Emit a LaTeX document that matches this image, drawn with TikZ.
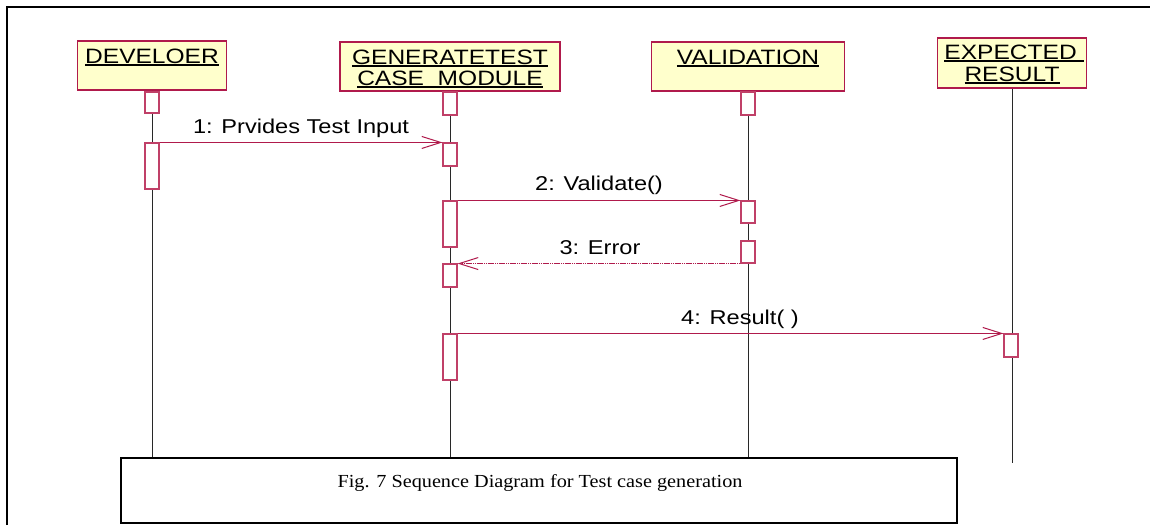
\documentclass[tikz,border=0pt]{standalone}
\usepackage{fontspec}
\setmainfont{Liberation Sans}
\newfontfamily\umlfont[FakeStretch=1.18]{Liberation Sans}
\newfontfamily\capfont[FakeStretch=1.1]{Liberation Serif}
\usetikzlibrary{arrows.meta}
\definecolor{umlred}{RGB}{176,26,76}
\definecolor{actred}{RGB}{192,64,104}
\definecolor{hdrfill}{RGB}{255,255,204}
\definecolor{lifegray}{RGB}{40,40,40}
% underlined object name with a heavier rule
\newcommand\ulbox[1]{\vtop{\hbox{#1}\kern1.2pt\hrule height 1.6pt}}
\tikzset{
  hdrbox/.style={draw=umlred, line width=1.1pt, fill=hdrfill, inner sep=0pt},
  hdrtxt/.style={anchor=base, inner sep=0pt, text=black,
    font=\umlfont\fontsize{20.8}{23}\selectfont},
  lifeline/.style={draw=lifegray, line width=0.9pt},
  actbox/.style={draw=actred, line width=1.1pt, fill=white, inner sep=0pt,
    minimum width=14pt},
  msg/.style={draw=umlred, line width=1pt,
    -{Straight Barb[length=19pt,width=12pt,line width=1pt]}},
  retmsg/.style={msg, dash pattern=on 1.6pt off 0.6pt},
  msglbl/.style={anchor=base, inner sep=0pt, text=black,
    font=\umlfont\fontsize{20}{23}\selectfont},
  capbox/.style={draw=black, line width=2.4pt, fill=white, inner sep=0pt},
  captxt/.style={anchor=base, inner sep=0pt, text=black,
    font=\capfont\fontsize{18.4}{20}\selectfont},
  frameline/.style={draw=black, line width=2.2pt}
}
\begin{document}
\begin{tikzpicture}[x=1pt,y=-1pt]
\useasboundingbox (0,0) rectangle (1150,525);
\fill[white] (0,0) rectangle (1150,525);

% outer frame (left and top edges)
\draw[frameline] (7,525) -- (7,7) -- (1150,7);

% object headers
\node[hdrbox, minimum width=149pt, minimum height=49pt] (devH) at (152,65.5) {};
\node[hdrtxt] (devT) at (152,63) {\ulbox{DEVELOER}};

\node[hdrbox, minimum width=220pt, minimum height=49pt] (genH) at (450,66.5) {};
\node[hdrtxt] (genT1) at (450,64) {\ulbox{GENERATETEST}};
\node[hdrtxt] (genT2) at (450,85) {\ulbox{CASE~ MODULE}};

\node[hdrbox, minimum width=193pt, minimum height=49pt] (valH) at (748,66.5) {};
\node[hdrtxt] (valT) at (748,64) {\ulbox{VALIDATION}};

\node[hdrbox, minimum width=149pt, minimum height=50pt] (expH) at (1012,63) {};
\node[hdrtxt] (expT1) at (1014,59) {\ulbox{EXPECTED\ }};
\node[hdrtxt] (expT2) at (1012,81) {\ulbox{RESULT}};

% caption box
\node[capbox, minimum width=836pt, minimum height=65pt] (cap) at (539,490.5) {};
\node[captxt] (capT) at (540,487) {Fig. 7 Sequence Diagram for Test case generation};

% lifeline ends
\coordinate (devEnd) at (devH |- cap.north);
\coordinate (genEnd) at (genH |- cap.north);
\coordinate (valEnd) at (valH |- cap.north);
\coordinate (expEnd) at (1012,463);

% lifelines
\draw[lifeline] (devH.south) -- (devEnd);
\draw[lifeline] (genH.south) -- (genEnd);
\draw[lifeline] (valH.south) -- (valEnd);
\draw[lifeline] (expH.south) -- (expEnd);

% activation boxes
\node[actbox, minimum height=21pt] (d0) at (152,102.5) {};
\node[actbox, minimum height=46pt] (d1) at (152,166) {};

\node[actbox, minimum height=23pt] (g0) at (450,103.5) {};
\node[actbox, minimum height=23pt] (g1) at (450,154.5) {};
\node[actbox, minimum height=46pt] (g2) at (450,224) {};
\node[actbox, minimum height=23pt] (g3) at (450,275.5) {};
\node[actbox, minimum height=46pt] (g4) at (450,357) {};

\node[actbox, minimum height=23pt] (v0) at (748,103.5) {};
\node[actbox, minimum height=22pt] (v1) at (748,212) {};
\node[actbox, minimum height=22pt] (v2) at (748,252) {};

\node[actbox, minimum height=23pt] (e1) at (1011,345.5) {};

% messages
\draw[msg] (d1.north east) -- (g1.north west);
\node[msglbl] (m1) at (301,133) {1: Prvides Test Input};

\draw[msg] (g2.north east) -- (v1.north west);
\node[msglbl] (m2) at (599,190) {2: Validate()};

\draw[retmsg] (v2.south west) -- (v2.south west -| g3.east);
\node[msglbl] (m3) at (600,254) {3: Error};

\draw[msg] (g4.north east) -- (e1.north west);
\node[msglbl] (m4) at (740,324) {4: Result( )};
\end{tikzpicture}
\end{document}
